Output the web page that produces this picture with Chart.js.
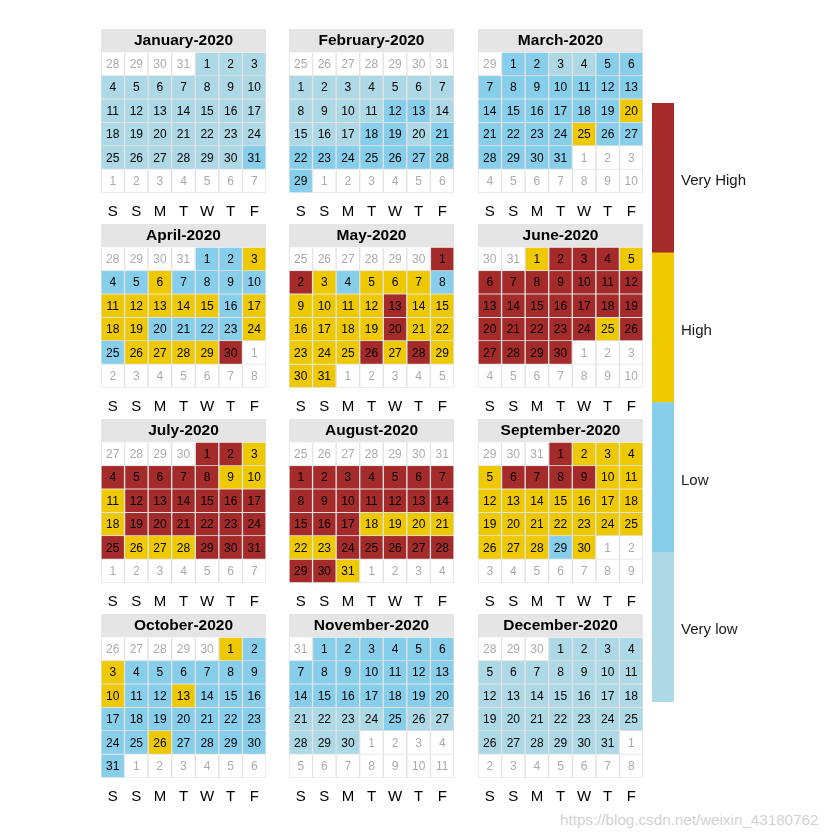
<!DOCTYPE html>
<html>
<head>
<meta charset="utf-8">
<script src="https://cdn.jsdelivr.net/npm/chart.js"></script>
<style>
  body { margin: 0; background: #fff; }
  #page { position: relative; width: 840px; height: 840px; overflow: hidden; background: #fff; }
  #page canvas { position: absolute; }
  #mark { position: absolute; left: 560px; top: 811px; font: 15.2px "Liberation Sans", Arial, sans-serif; color: #d2d2d2; }
</style>
</head>
<body>
<div id="page">
  <div id="mark">https://blog.csdn.net/weixin_43180762</div>
</div>
<script>
var year = 2020;
var monthNames = ['January','February','March','April','May','June','July','August','September','October','November','December'];
var weekdayLabels = ['S','S','M','T','W','T','F'];   // weeks start on Saturday
var levelNames = ['Very low','Low','High','Very High'];
var levelColors = ['#ADD8E6','#87CEEB','#EEC900','#A52A2A'];

// level of each day, 1 = Very low ... 4 = Very High
var janLevels = [1,1,1, 1,1,1,1,1,1,1, 1,1,1,1,1,1,1, 1,1,1,1,1,1,1, 1,1,1,1,1,1,2];
var febLevels = [1,1,1,1,1,1,1, 1,1,1,1,2,2,1, 1,1,1,2,2,1,2, 2,2,2,2,2,2,2, 2];
var marLevels = [2,2,1,1,2,2, 2,2,2,2,2,2,2, 2,2,2,2,2,2,3, 2,2,2,2,3,2,2, 2,2,2,2];
var aprLevels = [2,2,3, 2,2,3,2,2,2,2, 3,3,3,3,3,2,3, 3,3,2,2,2,2,3, 2,3,3,3,3,4];
var mayLevels = [4, 4,3,2,3,3,3,2, 3,3,3,3,4,3,3, 3,3,3,3,4,3,3, 3,3,3,4,3,4,3, 3,3];
var junLevels = [3,4,4,4,3, 4,4,4,4,4,4,4, 4,4,4,4,4,4,4, 4,4,4,4,4,3,4, 4,4,4,4];
var julLevels = [4,4,3, 4,4,4,4,4,3,3, 3,4,4,4,4,4,4, 3,4,4,4,4,4,4, 4,3,3,3,4,4,4];
var augLevels = [4,4,4,4,4,4,4, 4,4,4,4,4,4,4, 4,4,4,3,3,3,3, 3,3,4,4,4,4,4, 4,4,3];
var sepLevels = [4,3,3,3, 3,4,4,4,4,3,3, 3,3,3,3,3,3,3, 3,3,3,3,3,3,3, 3,3,3,2,3];
var octLevels = [3,2, 3,2,2,2,2,2,2, 3,2,2,3,2,2,2, 2,2,2,2,2,2,2, 2,2,3,2,2,2,2, 2];
var novLevels = [2,2,2,2,2,2, 2,2,2,2,2,2,2, 2,2,2,2,2,2,2, 1,1,1,1,2,1,1, 1,1,1];
var decLevels = [1,1,1,1, 1,1,1,1,1,1,1, 1,1,1,1,1,1,1, 1,1,1,1,1,1,1, 1,1,1,1,1,1];
var monthLevels = [janLevels,febLevels,marLevels,aprLevels,mayLevels,junLevels,
                   julLevels,augLevels,sepLevels,octLevels,novLevels,decLevels];

var FONT = '"Liberation Sans", Arial, sans-serif';
Chart.defaults.font.family = FONT;

// layout of the 4x3 grid of months
var panelLeft = [100.5, 289, 477.5];
var cellsTop = [52, 247, 442, 637];
var panelW = 165, cellH = 23.4, titleH = 23.4, axisH = 40;

// build the 6 week rows of a month (Saturday first)
function monthRows(m) {
  var levels = monthLevels[m];
  var first = new Date(year, m, 1);
  var col = (first.getDay() + 1) % 7;
  if (col === 0) col = 7;
  var start = new Date(year, m, 1 - col);
  var rows = [];
  for (var r = 0; r < 6; r++) {
    var days = [], colors = [], inMonth = [], data = [];
    for (var c = 0; c < 7; c++) {
      var d = new Date(start.getFullYear(), start.getMonth(), start.getDate() + r * 7 + c);
      var inside = d.getMonth() === m;
      days.push(d.getDate());
      inMonth.push(inside);
      colors.push(inside ? levelColors[levels[d.getDate() - 1] - 1] : '#FFFFFF');
      data.push([r, r + 1]);
    }
    rows.push({ data: data, backgroundColor: colors, borderColor: '#E2E2E2', borderWidth: 1,
                days: days, inMonth: inMonth });
  }
  return rows;
}

function noPad(s) {
  s.paddingLeft = 0; s.paddingRight = 0; s.paddingTop = 0; s.paddingBottom = 0;
}

var stripPlugin = {
  id: 'strip',
  beforeDraw: function (chart) {
    var a = chart.chartArea, ctx = chart.ctx;
    ctx.save();
    ctx.fillStyle = '#E5E5E5';
    ctx.fillRect(a.left, 0, a.right - a.left, a.top);
    ctx.restore();
  }
};

var dayTextPlugin = {
  id: 'dayText',
  afterDatasetsDraw: function (chart) {
    var ctx = chart.ctx;
    ctx.save();
    ctx.font = '12px ' + FONT;
    ctx.textAlign = 'center';
    ctx.textBaseline = 'middle';
    chart.data.datasets.forEach(function (ds, i) {
      chart.getDatasetMeta(i).data.forEach(function (bar, j) {
        ctx.fillStyle = ds.inMonth[j] ? '#000000' : '#ABABAB';
        ctx.fillText(String(ds.days[j]), bar.x, (bar.y + bar.base) / 2 + 0.5);
      });
    });
    ctx.restore();
  }
};

var page = document.getElementById('page');

for (var m = 0; m < 12; m++) {
  var cv = document.createElement('canvas');
  var h = Math.round(titleH + 6 * cellH + axisH);
  cv.width = panelW; cv.height = h;
  cv.style.left = panelLeft[m % 3] + 'px';
  cv.style.top = (cellsTop[Math.floor(m / 3)] - titleH) + 'px';
  cv.style.width = panelW + 'px'; cv.style.height = h + 'px';
  page.appendChild(cv);

  new Chart(cv, {
    type: 'bar',
    data: { labels: weekdayLabels, datasets: monthRows(m) },
    options: {
      responsive: false,
      animation: false,
      devicePixelRatio: 1,
      layout: { padding: 0 },
      datasets: { bar: { grouped: false, barPercentage: 1, categoryPercentage: 1 } },
      plugins: {
        legend: { display: false },
        tooltip: { enabled: false },
        title: {
          display: true,
          text: monthNames[m] + '-' + year,
          color: '#000',
          font: { size: 15.5, weight: 'bold', lineHeight: 1.2 },
          padding: { top: 2.4, bottom: 2.4 }
        }
      },
      scales: {
        x: {
          grid: { display: false, drawTicks: false },
          border: { display: false },
          ticks: { color: '#000', font: { size: 15 }, padding: 10, maxRotation: 0, autoSkip: false },
          afterFit: function (s) { s.height = h - titleH - 6 * cellH; noPad(s); }
        },
        y: { display: false, min: 0, max: 6, reverse: true }
      }
    },
    plugins: [stripPlugin, dayTextPlugin]
  });
}

// colour bar legend
var lg = document.createElement('canvas');
lg.width = 130; lg.height = 599;
lg.style.left = '652px'; lg.style.top = '103px';
lg.style.width = '130px'; lg.style.height = '599px';
page.appendChild(lg);

new Chart(lg, {
  type: 'bar',
  data: {
    labels: [''],
    datasets: levelNames.map(function (n, i) {
      return { label: n, data: [1], backgroundColor: levelColors[i], borderWidth: 0 };
    })
  },
  options: {
    responsive: false,
    animation: false,
    devicePixelRatio: 1,
    layout: { padding: 0 },
    datasets: { bar: { barPercentage: 1, categoryPercentage: 1 } },
    plugins: { legend: { display: false }, tooltip: { enabled: false } },
    scales: {
      x: { display: false, stacked: true },
      y: {
        stacked: true, min: 0, max: 4, position: 'right',
        grid: { display: false, drawTicks: false },
        border: { display: false },
        ticks: {
          color: '#1a1a1a', font: { size: 15 }, padding: 7, labelOffset: 3,
          callback: function (v) { return levelNames[Math.floor(v)]; }
        },
        afterBuildTicks: function (s) {
          s.ticks = [0.5, 1.5, 2.5, 3.5].map(function (v) { return { value: v }; });
        },
        afterFit: function (s) { s.width = 108; noPad(s); }
      }
    }
  }
});
</script>
</body>
</html>
